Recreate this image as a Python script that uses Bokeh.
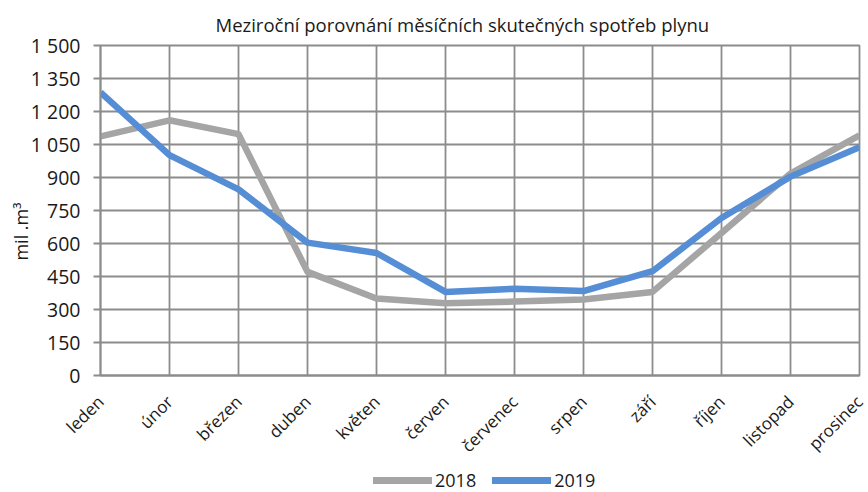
from bokeh.plotting import figure
from bokeh.layouts import column
from bokeh.models import Range1d, FixedTicker, Legend, LegendItem
from bokeh.embed import file_html
from bokeh.resources import INLINE
from math import pi

months = ["leden", "únor", "březen", "duben", "květen", "červen",
          "červenec", "srpen", "září", "říjen", "listopad", "prosinec"]
v2018 = [1087, 1160, 1097, 471, 350, 328, 336, 345, 380, 648, 918, 1092]
v2019 = [1287, 1002, 846, 604, 557, 380, 394, 384, 474, 716, 904, 1038]
y_ticks = list(range(0, 1501, 150))
series_labels = ["2018", "2019"]
series_colors = ["#A5A5A5", "#558ED5"]

FONT = "Open Sans"
GRID = "#8c8c8c"
TXT = "#1a1a1a"
W = 868

x = list(range(len(months)))

p = figure(width=W, height=468, output_backend="svg", toolbar_location=None,
           x_range=Range1d(0, len(months) - 1), y_range=Range1d(0, 1500),
           min_border_left=100, min_border_right=9, min_border_top=43,
           min_border_bottom=93)

p.title.text = "Meziroční porovnání měsíčních skutečných spotřeb plynu"
p.title.align = "left"
p.title.offset = 115
p.title.standoff = 18
p.title.text_font = FONT
p.title.text_font_size = "18.5px"
p.title.text_font_style = "normal"
p.title.text_color = TXT

p.outline_line_color = GRID
p.outline_line_width = 1.8

p.xgrid.ticker = FixedTicker(ticks=x)
p.xaxis.ticker = FixedTicker(ticks=x)
p.xaxis.major_label_overrides = {i: m for i, m in enumerate(months)}
p.xaxis.major_label_orientation = pi / 4
p.yaxis.ticker = FixedTicker(ticks=y_ticks)
p.yaxis.major_label_overrides = {t: f"{t:,}".replace(",", " ") for t in y_ticks}

for ax in (p.xaxis, p.yaxis):
    ax.axis_line_color = GRID
    ax.axis_line_width = 1.8
    ax.major_tick_line_color = GRID
    ax.major_tick_line_width = 1.8
    ax.major_tick_in = 0
    ax.minor_tick_line_color = None
    ax.major_label_text_font = FONT
    ax.major_label_text_color = TXT

p.xaxis.major_tick_out = 0
p.yaxis.major_tick_out = 7
p.yaxis.major_label_standoff = 13
p.xaxis.major_label_standoff = 23
p.yaxis.major_label_text_font_size = "19.5px"
p.xaxis.major_label_text_font_size = "17px"
p.yaxis.axis_label = "mil .m³" + "\u00a0" * 9
p.yaxis.axis_label_standoff = -5
p.yaxis.axis_label_text_font = FONT
p.yaxis.axis_label_text_font_size = "18px"
p.yaxis.axis_label_text_font_style = "normal"
p.yaxis.axis_label_text_color = TXT

for g in (p.xgrid, p.ygrid):
    g.grid_line_color = GRID
    g.grid_line_width = 1.8

for vals, col in zip([v2018, v2019], series_colors):
    p.line(x, vals, line_color=col, line_width=6.5, line_join="round")

# legend strip below the chart
q = figure(width=W, height=24, output_backend="svg", toolbar_location=None,
           x_range=Range1d(0, 1), y_range=Range1d(0, 1), min_border=0)
q.axis.visible = False
q.grid.visible = False
q.outline_line_color = None
items = []
nan = float("nan")
for lab, col in zip(series_labels, series_colors):
    r = q.line([nan], [nan], line_color=col, line_width=7, line_cap="round")
    items.append(LegendItem(label=lab, renderers=[r]))
legend = Legend(items=items, orientation="horizontal", location=(273, 0),
                glyph_width=59, glyph_height=16, label_text_font=FONT,
                label_text_font_size="18px", label_text_color=TXT,
                border_line_color=None, background_fill_alpha=0,
                spacing=16, padding=0, margin=0, label_standoff=3)
q.add_layout(legend, "center")

open("out.html", "w").write(file_html(column(p, q, spacing=0), INLINE))
